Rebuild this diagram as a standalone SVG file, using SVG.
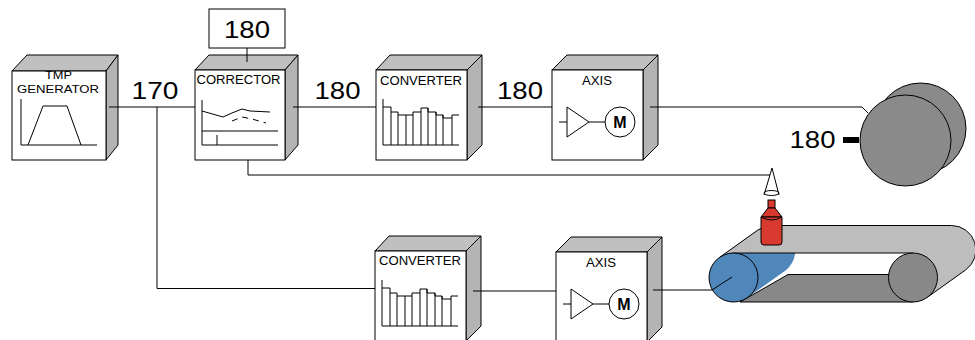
<svg xmlns="http://www.w3.org/2000/svg" width="975" height="340" viewBox="0 0 975 340">
<style>
.f{fill:#fff;stroke:#000;stroke-width:1}
.t{fill:#c0c0c0;stroke:#000;stroke-width:1}
.s{fill:#b4b4b4;stroke:#000;stroke-width:1}
.ln{fill:none;stroke:#000;stroke-width:1}
.lbl{font-family:"Liberation Sans",Arial,sans-serif;font-size:12px;fill:#000;stroke:none}
.sm{font-family:"Liberation Sans",Arial,sans-serif;font-size:11px;fill:#000;stroke:none}
.num{font-family:"Liberation Sans",Arial,sans-serif;font-size:24px;fill:#000;stroke:none}
.mm{font-family:"Liberation Sans",Arial,sans-serif;font-size:16px;font-weight:bold;fill:#000;stroke:none}
</style>
<rect width="975" height="340" fill="#fff"/>

<g id="tmp-generator">
<polygon class="t" points="12,71 27,55 118,55 106,71"/>
<polygon class="s" points="106,71 118,55 118,145 106,160"/>
<rect class="f" x="12" y="71" width="94" height="89"/>
<text class="sm" x="58.5" y="79" text-anchor="middle" textLength="27" lengthAdjust="spacingAndGlyphs">TMP</text>
<text class="sm" x="58" y="92.5" text-anchor="middle" textLength="82" lengthAdjust="spacingAndGlyphs">GENERATOR</text>
<path class="ln" d="M21,99 V145 H97 M28,145 L43,106 H67 L81,145"/>
</g>

<g id="setpoint-180">
<rect class="f" x="209" y="9" width="76" height="39"/>
<text class="num" x="247" y="38" text-anchor="middle" textLength="46" lengthAdjust="spacingAndGlyphs">180</text>
</g>

<g id="corrector">
<polygon class="t" points="195,70 209,55 298,55 285,70"/>
<polygon class="s" points="285,70 298,55 298,145 285,160"/>
<rect class="f" x="195" y="70" width="90" height="90"/>
<text class="lbl" x="238.5" y="84" text-anchor="middle" textLength="84" lengthAdjust="spacingAndGlyphs">CORRECTOR</text>
<path class="ln" d="M202,100 V145 H278 M202,131 H278 M217,135 V145 M202,111 L223,117 L232,113 L242,109 L250,111 L270,112"/>
<path class="ln" d="M232,121 L242,117 L252,119 L266,123" stroke-dasharray="6,5"/>
</g>

<g id="converter-1">
<polygon class="t" points="376,70 390,55 482,55 467,70"/>
<polygon class="s" points="467,70 482,55 482,145 467,160"/>
<rect class="f" x="376" y="70" width="91" height="90"/>
<text class="lbl" x="421" y="85" text-anchor="middle" textLength="82" lengthAdjust="spacingAndGlyphs">CONVERTER</text>
<path class="ln" d="M383,99 V145 H459 M383,107 H391 V112 H398 V115 H413 V112 H421 V108 H428 V112 H436 V115 H443 V118 H452 V115 H459 M391,112 V145 M398,115 V145 M406,115 V145 M413,115 V145 M421,112 V145 M428,108 V145 M436,112 V145 M443,115 V145 M452,118 V145"/>
</g>

<g id="axis-1">
<polygon class="t" points="552,70 567,55 658,55 643,70"/>
<polygon class="s" points="643,70 658,55 658,145 643,160"/>
<rect class="f" x="552" y="70" width="91" height="90"/>
<text class="lbl" x="597" y="85" text-anchor="middle" textLength="30" lengthAdjust="spacingAndGlyphs">AXIS</text>
<polygon class="f" points="567,107 567,137 589,122"/>
<path class="ln" d="M559,122 H567 M589,122 H605"/>
<circle class="f" cx="620" cy="122" r="15"/>
<text class="mm" x="620" y="128" text-anchor="middle">M</text>
</g>

<g id="converter-2" transform="translate(-1,181)">
<polygon class="t" points="376,70 390,55 482,55 467,70"/>
<polygon class="s" points="467,70 482,55 482,145 467,160"/>
<rect class="f" x="376" y="70" width="91" height="90"/>
<text class="lbl" x="421" y="84" text-anchor="middle" textLength="82" lengthAdjust="spacingAndGlyphs">CONVERTER</text>
<path class="ln" d="M383,99 V145 H459 M383,107 H391 V112 H398 V115 H413 V112 H421 V108 H428 V112 H436 V115 H443 V118 H452 V115 H459 M391,112 V145 M398,115 V145 M406,115 V145 M413,115 V145 M421,112 V145 M428,108 V145 M436,112 V145 M443,115 V145 M452,118 V145"/>
</g>

<g id="axis-2" transform="translate(4,182)">
<polygon class="t" points="552,70 567,55 658,55 643,70"/>
<polygon class="s" points="643,70 658,55 658,145 643,160"/>
<rect class="f" x="552" y="70" width="91" height="90"/>
<text class="lbl" x="597" y="85" text-anchor="middle" textLength="30" lengthAdjust="spacingAndGlyphs">AXIS</text>
<polygon class="f" points="567,107 567,137 589,122"/>
<path class="ln" d="M559,122 H567 M589,122 H605"/>
<circle class="f" cx="620" cy="122" r="15"/>
<text class="mm" x="620" y="128" text-anchor="middle">M</text>
</g>

<g id="conveyor">
<path d="M719.3,257.6 L757.8,230.1 A24.5,24.5 0 0 1 786.2,269.9 L747.7,297.4 A24.5,24.5 0 0 1 719.3,257.6 Z" fill="#5087bb"/>
<path d="M740,302 L788,274.5 H913 V302 Z" fill="#888" stroke="#000"/>
<path d="M719.3,257.6 L757.8,230.1 A24.5,24.5 0 0 1 772,225.5 H951.5 A24.5,24.5 0 0 1 965.7,269.9 L927.2,297.4 L913,253 H733.5 Z" fill="#bdbdbd" stroke="#000"/>
<circle cx="733.5" cy="277.5" r="24.5" fill="#5087bb" stroke="#000"/>
<circle cx="913" cy="277.5" r="24.5" fill="#888" stroke="#000"/>
</g>

<g id="drum">
<circle cx="920.5" cy="128.5" r="45.5" fill="#8a8a8a" stroke="#000"/>
<circle cx="905.5" cy="140.5" r="45.5" fill="#8a8a8a" stroke="#000"/>
<rect x="843" y="137" width="16" height="6" fill="#000"/>
<text class="num" x="812.5" y="148" text-anchor="middle" textLength="46" lengthAdjust="spacingAndGlyphs">180</text>
</g>

<g id="sensor">
<path class="ln" d="M764,195 L772,168 L779,195"/>
<ellipse cx="771.5" cy="193" rx="7.5" ry="2.5" fill="none" stroke="#000"/>
<rect x="768" y="200" width="7" height="8" fill="#d93a2f" stroke="#000"/>
<path d="M761,217 L768,208 H775 L782,217 Z" fill="#d93a2f" stroke="#000"/>
<path d="M761,217 V242 Q761,245 764,245 H779 Q782,245 782,242 V217 Z" fill="#d93a2f" stroke="#000"/>
<path class="ln" d="M761,217 Q771.5,223 782,217"/>
</g>

<g id="labels">
<text class="num" x="155" y="99" text-anchor="middle" textLength="47" lengthAdjust="spacingAndGlyphs">170</text>
<text class="num" x="337.5" y="99" text-anchor="middle" textLength="46" lengthAdjust="spacingAndGlyphs">180</text>
<text class="num" x="520" y="99" text-anchor="middle" textLength="46" lengthAdjust="spacingAndGlyphs">180</text>
</g>

<g id="connectors">
<path class="ln" d="M109,107 H195"/>
<path class="ln" d="M157,107 V288.5 H375"/>
<path class="ln" d="M293,107 H376"/>
<path class="ln" d="M248,160 V175 H770"/>
<path class="ln" d="M247,48 V62"/>
<path class="ln" d="M478,107 H552"/>
<path class="ln" d="M650,107 H862 L868,113"/>
<path class="ln" d="M473,291 H556"/>
<path class="ln" d="M653,290 H712 L732,277"/>
</g>
</svg>
